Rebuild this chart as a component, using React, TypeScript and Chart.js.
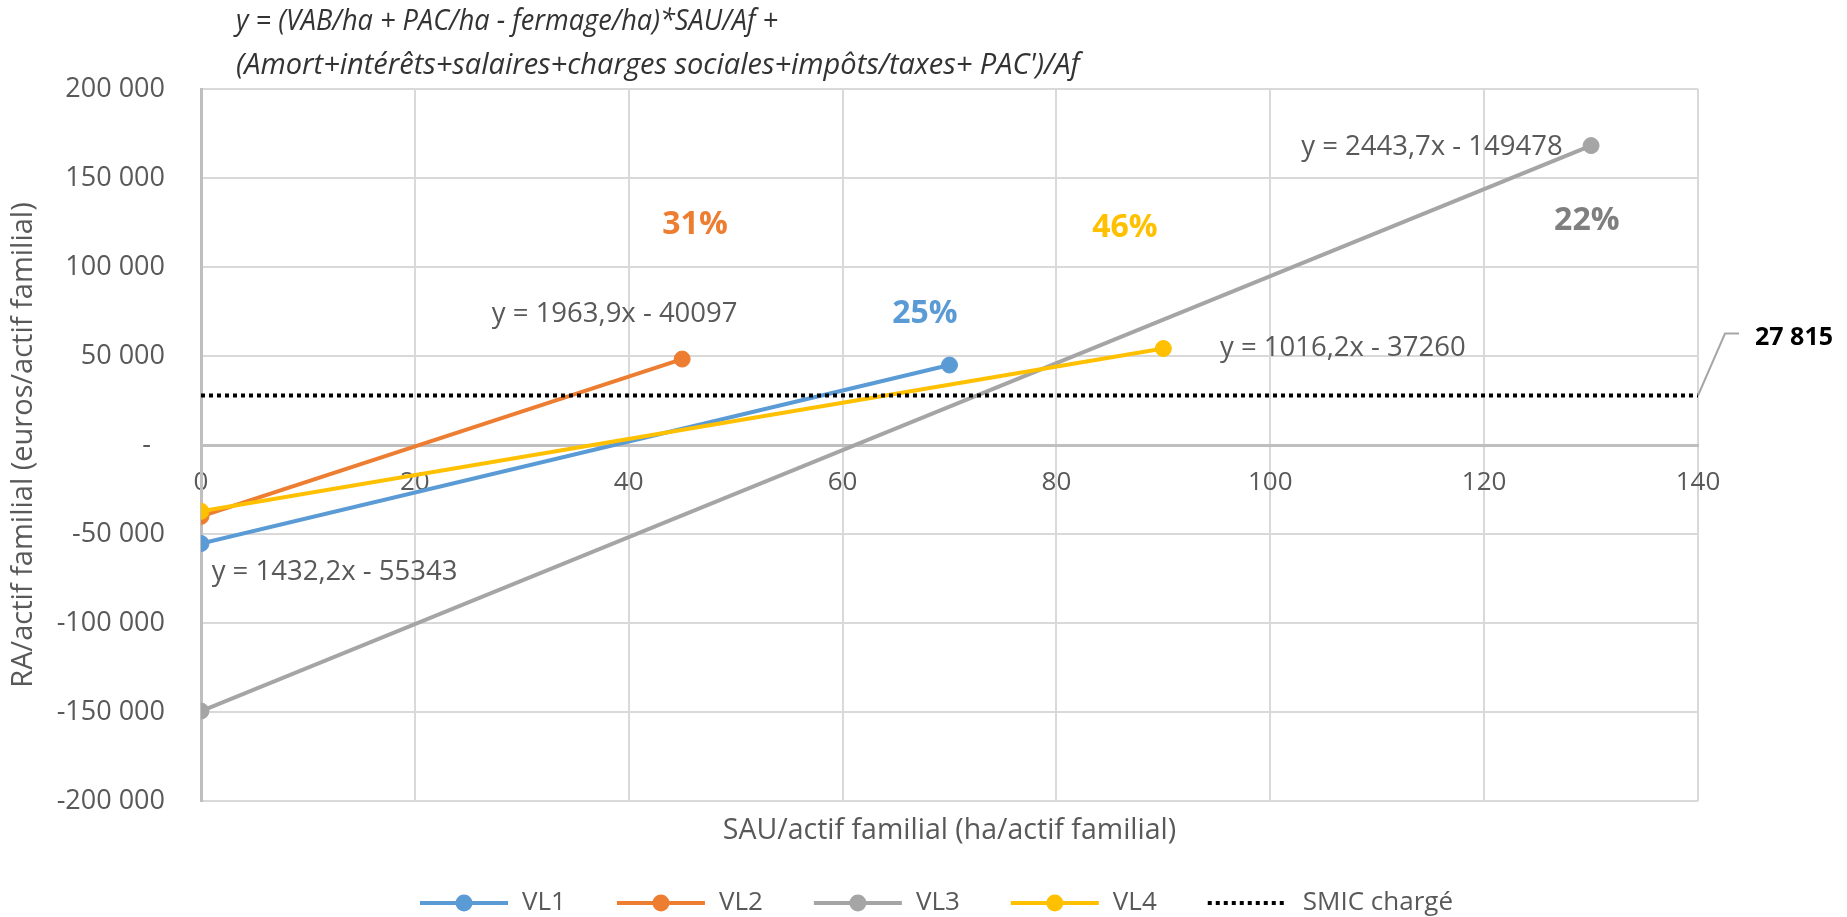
import { useEffect, useRef } from 'react';
import { Chart, registerables } from 'chart.js';

Chart.register(...registerables);

// ---------- data ----------
const SERIES_LABELS = ['VL1', 'VL2', 'VL3', 'VL4'];
const SERIES_COLORS = ['#5B9BD5', '#ED7D31', '#A5A5A5', '#FFC000'];

const VL1_X = [0, 70];
const VL1_Y = [-55343, 44911];
const VL2_X = [0, 45];
const VL2_Y = [-40097, 48278];
const VL3_X = [0, 130];
const VL3_Y = [-149478, 168203];
const VL4_X = [0, 90];
const VL4_Y = [-37260, 54198];

const SMIC_LABEL = 'SMIC chargé';
const SMIC_X = [0, 140];
const SMIC_Y = [27815, 27815];
const SMIC_VALUE_LABEL = '27 815';

const X_MIN = 0;
const X_MAX = 140;
const X_STEP = 20;
const Y_TICK_VALUES = [-200000, -150000, -100000, -50000, 0, 50000, 100000, 150000, 200000];
const Y_TICK_LABELS = ['-200 000', '-150 000', '-100 000', '-50 000', '-  ', '50 000', '100 000', '150 000', '200 000'];

const TITLE_LINES = [
  'y = (VAB/ha + PAC/ha - fermage/ha)*SAU/Af +',
  "(Amort+intérêts+salaires+charges sociales+impôts/taxes+ PAC')/Af",
];
const X_TITLE = 'SAU/actif familial (ha/actif familial)';
const Y_TITLE = 'RA/actif familial (euros/actif familial)';

// trend-line equation labels (left-aligned, data coordinates)
const TREND_LABELS = ['y = 1432,2x - 55343', 'y = 1963,9x - 40097', 'y = 2443,7x - 149478', 'y = 1016,2x - 37260'];
const TREND_X = [1.0, 27.2, 102.9, 95.3];
const TREND_Y = [-71300, 73500, 167400, 54500];

// share labels (centered, data coordinates)
const SHARE_LABELS = ['25%', '31%', '22%', '46%'];
const SHARE_X = [67.7, 46.2, 129.6, 86.4];
const SHARE_Y = [73900, 123600, 125800, 121900];
const SHARE_COLORS = ['#5B9BD5', '#ED7D31', '#7F7F7F', '#FFC000'];

const FONT = '"Open Sans", "DejaVu Sans", sans-serif';
const TEXT_GRAY = '#595959';

const toPoints = (xs: number[], ys: number[]) => xs.map((x, i) => ({ x, y: ys[i] }));

const overlayPlugin = {
  id: 'overlay',
  afterDraw(chart: any) {
    const ctx: CanvasRenderingContext2D = chart.ctx;
    const xs = chart.scales.x;
    const ys = chart.scales.y;
    const area = chart.chartArea;
    ctx.save();

    // title
    ctx.fillStyle = '#333333';
    ctx.font = `italic 29px ${FONT}`;
    ctx.textAlign = 'left';
    ctx.textBaseline = 'middle';
    ctx.fillText(TITLE_LINES[0], 236, 22, 542);
    ctx.fillText(TITLE_LINES[1], 236, 66, 856);

    // trend labels
    ctx.fillStyle = TEXT_GRAY;
    ctx.font = `27.5px ${FONT}`;
    TREND_LABELS.forEach((t, i) => {
      ctx.fillText(t, xs.getPixelForValue(TREND_X[i]), ys.getPixelForValue(TREND_Y[i]));
    });

    // share labels
    ctx.textAlign = 'center';
    ctx.font = `bold 32px ${FONT}`;
    SHARE_LABELS.forEach((t, i) => {
      ctx.fillStyle = SHARE_COLORS[i];
      ctx.fillText(t, xs.getPixelForValue(SHARE_X[i]), ys.getPixelForValue(SHARE_Y[i]));
    });

    // SMIC value callout
    const px = xs.getPixelForValue(SMIC_X[1]);
    const py = ys.getPixelForValue(SMIC_Y[1]);
    ctx.strokeStyle = '#A6A6A6';
    ctx.lineWidth = 2;
    ctx.beginPath();
    ctx.moveTo(px, py);
    ctx.lineTo(px + 27, py - 62);
    ctx.lineTo(px + 41, py - 62);
    ctx.stroke();
    ctx.fillStyle = '#000000';
    ctx.font = `bold 25px ${FONT}`;
    ctx.textAlign = 'left';
    ctx.fillText(SMIC_VALUE_LABEL, px + 57, py - 58);

    // x-axis title
    ctx.fillStyle = TEXT_GRAY;
    ctx.font = `28.5px ${FONT}`;
    ctx.textAlign = 'center';
    ctx.fillText(X_TITLE, (area.left + area.right) / 2, area.bottom + 30);

    // legend
    const ly = 903;
    let lx = 420;
    ctx.font = `26px ${FONT}`;
    ctx.textAlign = 'left';
    chart.data.datasets.forEach((ds: any) => {
      const isDotted = !!ds.borderDash;
      const lineLen = isDotted ? 80 : 88;
      ctx.strokeStyle = ds.borderColor;
      ctx.lineWidth = 4;
      ctx.setLineDash(isDotted ? ds.borderDash : []);
      ctx.beginPath();
      ctx.moveTo(lx, ly);
      ctx.lineTo(lx + lineLen, ly);
      ctx.stroke();
      ctx.setLineDash([]);
      if (!isDotted) {
        ctx.fillStyle = ds.backgroundColor;
        ctx.beginPath();
        ctx.arc(lx + lineLen / 2, ly, 8.5, 0, Math.PI * 2);
        ctx.fill();
      }
      const tx = lx + lineLen + (isDotted ? 15 : 14);
      ctx.fillStyle = TEXT_GRAY;
      ctx.fillText(ds.label, tx, ly);
      lx = tx + ctx.measureText(ds.label).width + 51;
    });

    ctx.restore();
  },
};

export default function App() {
  const canvasRef = useRef<HTMLCanvasElement | null>(null);

  useEffect(() => {
    document.body.style.margin = '0';
    const canvas = canvasRef.current;
    if (!canvas) return;

    const seriesX = [VL1_X, VL2_X, VL3_X, VL4_X];
    const seriesY = [VL1_Y, VL2_Y, VL3_Y, VL4_Y];

    const datasets: any[] = SERIES_LABELS.map((label, i) => ({
      label,
      data: toPoints(seriesX[i], seriesY[i]),
      showLine: true,
      borderColor: SERIES_COLORS[i],
      backgroundColor: SERIES_COLORS[i],
      borderWidth: 4,
      pointRadius: 8,
      pointBorderWidth: 1,
      pointHoverRadius: 8,
      order: 5 - i,
    }));
    datasets.push({
      label: SMIC_LABEL,
      data: toPoints(SMIC_X, SMIC_Y),
      showLine: true,
      borderColor: '#000000',
      backgroundColor: '#000000',
      borderWidth: 4,
      borderDash: [4, 4],
      pointRadius: 0,
      order: 0,
    });

    const chart = new Chart(canvas, {
      type: 'scatter',
      data: { datasets },
      options: {
        responsive: false,
        animation: false,
        devicePixelRatio: 1,
        layout: { padding: { left: 0, right: 149, top: 89, bottom: 116 } },
        plugins: {
          legend: { display: false },
          tooltip: { enabled: false },
          title: { display: false },
        },
        scales: {
          x: {
            type: 'linear',
            min: X_MIN,
            max: X_MAX,
            position: { y: 0 } as any,
            ticks: {
              stepSize: X_STEP,
              color: TEXT_GRAY,
              font: { family: FONT, size: 26 },
              padding: 22,
              maxRotation: 0,
            },
            grid: { color: '#D9D9D9', lineWidth: 2, drawTicks: false },
            border: { display: true, color: '#BFBFBF', width: 3 },
          },
          y: {
            type: 'linear',
            min: Y_TICK_VALUES[0],
            max: Y_TICK_VALUES[Y_TICK_VALUES.length - 1],
            position: 'left',
            afterFit: (scale: any) => {
              scale.width = 201;
            },
            ticks: {
              stepSize: 50000,
              color: TEXT_GRAY,
              font: { family: FONT, size: 27 },
              padding: 36,
              callback: (v: any) => {
                const idx = Y_TICK_VALUES.indexOf(Number(v));
                return idx >= 0 ? Y_TICK_LABELS[idx] : '';
              },
            },
            grid: { color: '#D9D9D9', lineWidth: 2, drawTicks: false },
            border: { display: true, color: '#BFBFBF', width: 3 },
            title: {
              display: true,
              text: Y_TITLE,
              color: TEXT_GRAY,
              font: { family: FONT, size: 29 },
              padding: { top: 6, bottom: 0 },
            },
          },
        },
      },
      plugins: [overlayPlugin],
    });

    return () => chart.destroy();
  }, []);

  return (
    <div style={{ width: 1847, height: 917, background: '#ffffff' }}>
      <canvas ref={canvasRef} width={1847} height={917} style={{ display: 'block' }} />
    </div>
  );
}
